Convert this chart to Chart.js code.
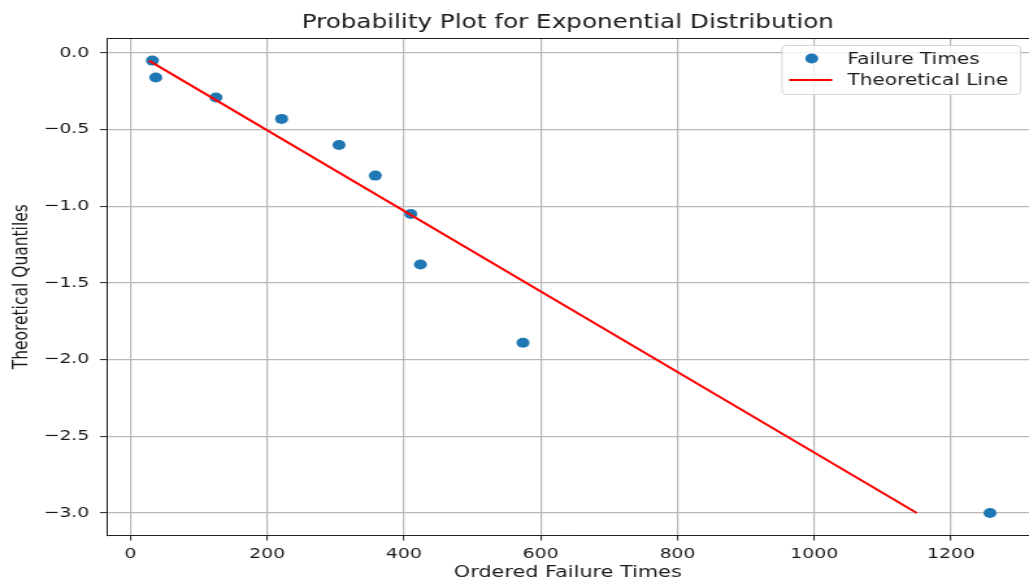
<!DOCTYPE html>
<html>
<head>
<meta charset="utf-8">
<title>Probability Plot for Exponential Distribution</title>
<script src="https://cdn.jsdelivr.net/npm/chart.js@4.4.1/dist/chart.umd.min.js"></script>
<style>
  html, body { margin: 0; padding: 0; background: #ffffff; overflow: hidden; }
  #wrap { width: 1029px; height: 581px; overflow: hidden; position: relative; }
  /* the figure is drawn on a narrower canvas and widened to the page width */
  #plot { position: absolute; left: 0; top: 0; transform-origin: 0 0; transform: scaleX(1.2992); }
</style>
</head>
<body>
<div id="wrap"><canvas id="plot" width="792" height="581"></canvas></div>
<script>
// Observed failure times (sorted) and their exponential quantiles
const failureTimes = [32, 37, 125, 221, 305, 358, 410, 424, 574, 1257];
const quantiles    = [-0.05, -0.16, -0.29, -0.43, -0.60, -0.80, -1.05, -1.38, -1.89, -3.00];

// Reference line end points
const lineX = [27, 1150];
const lineY = [-0.05, -3.00];

// Axis ticks
const xTicks = [0, 200, 400, 600, 800, 1000, 1200];
const yTicks = [-3.0, -2.5, -2.0, -1.5, -1.0, -0.5, 0.0];

const FONT = "'DejaVu Sans', 'Liberation Sans', sans-serif";
const TEXT = '#1a1a1a';
const GRID = '#b8b8b8';

const fmtY = v => (v < 0 ? '\u2212' : '') + Math.abs(v).toFixed(1);

// Top spine plus a legend box placed inside the plot area (upper right)
const axesDecor = {
  id: 'axesDecor',
  afterDraw(chart) {
    const { ctx, chartArea: a } = chart;
    ctx.save();
    ctx.strokeStyle = '#222';
    ctx.lineWidth = 1;
    const ty = Math.round(a.top) + 0.5;
    ctx.beginPath();
    ctx.moveTo(a.left, ty);
    ctx.lineTo(a.right, ty);
    ctx.stroke();

    const ds = chart.data.datasets;
    const bx = 602, by = 45.5, bw = 183.5, bh = 49, r = 3;
    ctx.beginPath();
    ctx.roundRect(bx, by, bw, bh, r);
    ctx.fillStyle = 'rgba(255,255,255,0.8)';
    ctx.fill();
    ctx.strokeStyle = 'rgba(204,204,204,0.8)';
    ctx.lineWidth = 1;
    ctx.stroke();

    // scatter entry
    ctx.beginPath();
    ctx.arc(624.8, 58.5, ds[0].pointRadius, 0, Math.PI * 2);
    ctx.fillStyle = ds[0].backgroundColor;
    ctx.fill();
    // line entry
    ctx.beginPath();
    ctx.moveTo(607.3, 80);
    ctx.lineTo(640.6, 80);
    ctx.strokeStyle = ds[1].borderColor;
    ctx.lineWidth = ds[1].borderWidth;
    ctx.stroke();

    ctx.fillStyle = TEXT;
    ctx.font = '15.5px ' + FONT;
    ctx.textAlign = 'left';
    ctx.textBaseline = 'alphabetic';
    ctx.fillText(ds[0].label, 652.2, 64);
    ctx.fillText(ds[1].label, 652.2, 85);
    ctx.restore();
  }
};

new Chart(document.getElementById('plot'), {
  type: 'scatter',
  data: {
    datasets: [
      {
        label: 'Failure Times',
        data: failureTimes.map((x, i) => ({ x, y: quantiles[i] })),
        backgroundColor: '#1f77b4',
        borderColor: '#1f77b4',
        borderWidth: 0,
        pointRadius: 5,
        pointHoverRadius: 5,
        order: 1
      },
      {
        label: 'Theoretical Line',
        type: 'line',
        data: lineX.map((x, i) => ({ x, y: lineY[i] })),
        borderColor: '#ff0000',
        backgroundColor: '#ff0000',
        borderWidth: 2,
        pointRadius: 0,
        fill: false,
        tension: 0,
        order: 0
      }
    ]
  },
  options: {
    responsive: false,
    animation: false,
    devicePixelRatio: 1,
    layout: { padding: 0, autoPadding: false },
    plugins: {
      legend: { display: false },
      tooltip: { enabled: false },
      title: {
        display: true,
        fullSize: false,
        text: 'Probability Plot for Exponential Distribution',
        color: TEXT,
        font: { family: FONT, size: 19, weight: 'normal', lineHeight: 1.2 },
        padding: { top: 12, bottom: 3.2 }
      }
    },
    scales: {
      x: {
        type: 'linear',
        position: 'bottom',
        min: -35,
        max: 1314,
        afterBuildTicks: s => { s.ticks = xTicks.map(v => ({ value: v })); },
        afterFit: s => { s.height = 45.5; s.paddingLeft = 0; s.paddingRight = 0; },
        ticks: {
          color: TEXT,
          font: { family: FONT, size: 14.5 },
          padding: 5,
          maxRotation: 0,
          autoSkip: false,
          callback: v => String(v)
        },
        grid: { color: GRID, lineWidth: 1.2, drawTicks: true, tickLength: 5, tickColor: '#222', tickWidth: 1 },
        border: { display: true, color: '#222', width: 1 },
        title: {
          display: true,
          text: 'Ordered Failure Times',
          color: TEXT,
          font: { family: FONT, size: 16, lineHeight: 1 },
          padding: { top: 0, bottom: 0 }
        }
      },
      y: {
        type: 'linear',
        position: 'left',
        min: -3.147,
        max: 0.0975,
        afterBuildTicks: s => { s.ticks = yTicks.map(v => ({ value: v })); },
        afterFit: s => { s.width = 82; s.paddingTop = 0; s.paddingBottom = 0; },
        ticks: {
          color: TEXT,
          font: { family: FONT, size: 14.5 },
          padding: 8.3,
          autoSkip: false,
          callback: v => fmtY(v)
        },
        grid: { color: GRID, lineWidth: 1.2, drawTicks: true, tickLength: 5, tickColor: '#222', tickWidth: 1 },
        border: { display: true, color: '#222', width: 1 },
        title: {
          display: true,
          text: 'Theoretical Quantiles',
          color: TEXT,
          font: { family: FONT, size: 15.5, lineHeight: 1 },
          padding: { top: 9.2, bottom: 0 }
        }
      }
    }
  },
  plugins: [axesDecor]
});
</script>
</body>
</html>
